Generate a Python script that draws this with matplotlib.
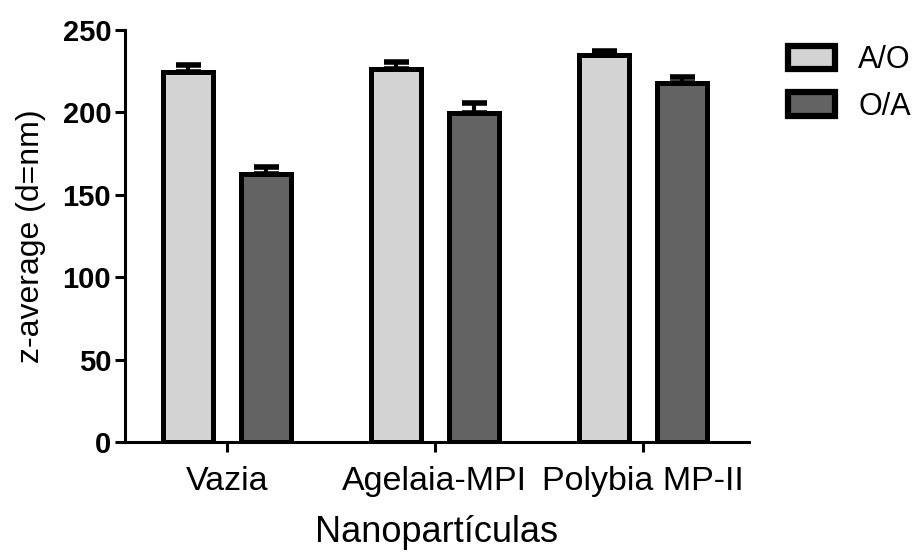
import matplotlib
matplotlib.use("Agg")
import matplotlib.pyplot as plt
import numpy as np
from matplotlib.patches import Patch

plt.rcParams['font.family'] = ['Liberation Sans', 'DejaVu Sans']

categories = ["Vazia", "Agelaia-MPI", "Polybia MP-II"]
series_names = ["A/O", "O/A"]
ao_values = [224.3, 226.1, 235.0]
ao_errors = [4.6, 4.5, 2.4]
oa_values = [162.4, 199.8, 217.7]
oa_errors = [4.5, 6.0, 3.8]
y_ticks = [0, 50, 100, 150, 200, 250]

colors = ["#d3d3d3", "#636363"]

fig = plt.figure(figsize=(9.2, 5.55), dpi=100)
ax = fig.add_axes([0.136, 0.203, 0.678, 0.743])

x = np.arange(len(categories))
offset = 0.1875
width = 0.24

for vals, errs, dx, col in [(ao_values, ao_errors, -offset, colors[0]),
                            (oa_values, oa_errors, offset, colors[1])]:
    ax.errorbar(x + dx, vals, yerr=[np.zeros(len(vals)), errs], fmt='none',
                ecolor='black', elinewidth=3, capsize=9, capthick=4, zorder=1)
    ax.bar(x + dx, vals, width=width, color=col, edgecolor='black',
           linewidth=3.6, zorder=2)

ax.set_xlim(-0.49, 2.51)
ax.set_ylim(0, 250)
ax.set_yticks(y_ticks)
ax.set_xticks(x)
ax.set_xticklabels(categories, fontsize=24.5)
for lbl in ax.get_yticklabels():
    lbl.set_fontweight('bold')
    lbl.set_fontsize(21)

ax.spines['top'].set_visible(False)
ax.spines['right'].set_visible(False)
for s in ('left', 'bottom'):
    ax.spines[s].set_linewidth(2.2)
ax.tick_params(axis='both', width=2.2, length=7)
ax.tick_params(axis='x', pad=10)
ax.tick_params(axis='y', pad=3)

ax.set_ylabel("z-average (d=nm)", fontsize=23, labelpad=12)
ax.set_xlabel("Nanopartículas", fontsize=26, labelpad=13)

handles = [Patch(facecolor=c, edgecolor='black', linewidth=4.5) for c in colors]
fig.legend(handles, series_names, loc='upper left', bbox_to_anchor=(0.8565, 0.919),
           frameon=False, fontsize=22, handlelength=1.55, handleheight=0.8,
           handletextpad=0.75, labelspacing=0.55, borderaxespad=0, borderpad=0)

fig.savefig("out.png", dpi=100)
